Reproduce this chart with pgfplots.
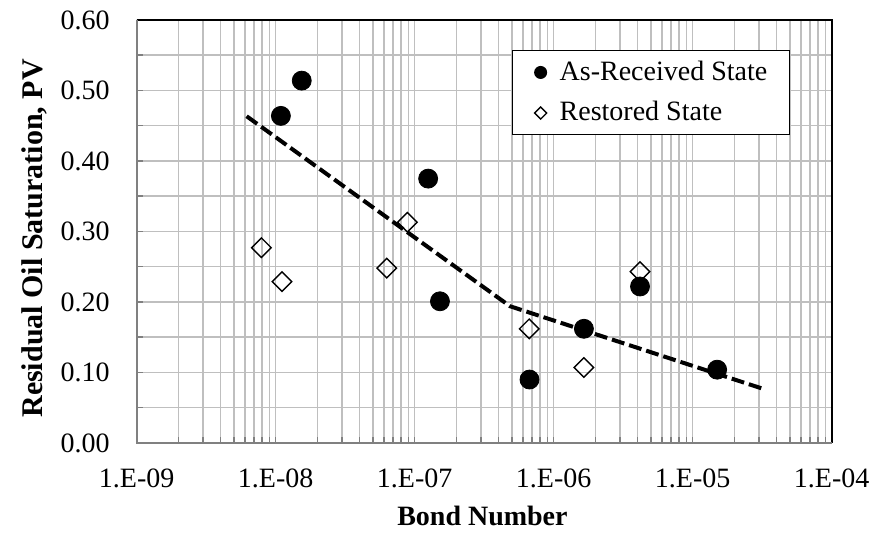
\documentclass[border=0pt]{standalone}
\usepackage{fontspec}
\setmainfont{Liberation Serif}
\usepackage{pgfplots}
\pgfplotsset{compat=1.18}
\begin{document}
\fontsize{14pt}{16.8pt}\selectfont
\begin{tikzpicture}
\begin{axis}[
  at={(68.35pt,45pt)}, anchor=south west,
  scale only axis, width=347.5pt, height=211.5pt,
  xmode=log, xmin=1e-9, xmax=1e-4, ymin=0, ymax=0.6,
  xtick={1e-9,1e-8,1e-7,1e-6,1e-5,1e-4},
  xticklabels={1.E-09,1.E-08,1.E-07,1.E-06,1.E-05,1.E-04},
  minor xtick={2e-9,3e-9,4e-9,5e-9,6e-9,7e-9,8e-9,9e-9,
               2e-8,3e-8,4e-8,5e-8,6e-8,7e-8,8e-8,9e-8,
               2e-7,3e-7,4e-7,5e-7,6e-7,7e-7,8e-7,9e-7,
               2e-6,3e-6,4e-6,5e-6,6e-6,7e-6,8e-6,9e-6,
               2e-5,3e-5,4e-5,5e-5,6e-5,7e-5,8e-5,9e-5},
  ytick={0,0.1,0.2,0.3,0.4,0.5,0.6},
  minor ytick={0.05,0.15,0.25,0.35,0.45,0.55},
  /pgf/number format/fixed,
  /pgf/number format/fixed zerofill,
  /pgf/number format/precision=2,
  /pgf/number format/assume math mode=true,
  grid=both,
  major grid style={draw=gray!50, line width=0.75pt},
  minor grid style={draw=gray!50, line width=0.75pt},
  axis line style={draw=none},
  tick align=inside, xtick pos=bottom, ytick pos=left,
  major tick length=3pt, minor tick length=3pt,
  tick style={draw=gray, line width=0.75pt},
  xticklabel style={yshift=-8pt},
  yticklabel style={xshift=-8.7pt},
  xlabel={\bfseries Bond Number},
  ylabel={\fontsize{15pt}{18pt}\selectfont\bfseries Residual Oil Saturation, PV},
  xlabel style={at={(axis description cs:0.4975,-0.1939)}, anchor=base},
  ylabel style={at={(axis description cs:-0.1348,0.4835)}, anchor=base},
  legend style={at={(0.54,0.929)}, anchor=north west, draw=black, line width=0.6pt,
    fill=white, inner xsep=11pt, inner ysep=3pt, row sep=4.5pt, column sep=6.5pt,
    font=\fontsize{14pt}{16.8pt}\selectfont,
    nodes={inner xsep=0pt, inner ysep=2pt}},
  legend cell align=left,
  legend image code/.code={\draw[#1, every mark/.append style={scale=0.62}] plot coordinates {(0pt,0pt)};},
  reverse legend,
  after end axis/.code={
    \draw[black, line width=0.9pt] (rel axis cs:0,1) -- (rel axis cs:1,1) -- (rel axis cs:1,0);
    \draw[gray, line width=0.9pt] (rel axis cs:0,1) -- (rel axis cs:0,0) -- (rel axis cs:1,0);
  },
]
\addplot[forget plot, black, line width=2pt, dash pattern=on 6.5pt off 2.5pt] coordinates {
  (6.18e-9,0.4635) (4.85e-7,0.194) (3.27e-5,0.0763)
};
\addplot[only marks, mark=square, mark size=3.45pt, mark options={rotate=45, fill=white, draw=black, line width=0.7pt}] coordinates {
  (7.9e-9,0.277) (1.11e-8,0.229) (6.3e-8,0.248) (8.86e-8,0.313)
  (6.67e-7,0.162) (1.65e-6,0.107) (4.18e-6,0.243)
};
\addlegendentry{Restored State}
\addplot[only marks, mark=*, mark size=4.75pt, mark options={fill=black, draw=black}] coordinates {
  (1.09e-8,0.464) (1.54e-8,0.514) (1.25e-7,0.375) (1.52e-7,0.201)
  (6.7e-7,0.090) (1.65e-6,0.162) (4.18e-6,0.222) (1.5e-5,0.104)
};
\addlegendentry{As-Received State}
\end{axis}
\pgfresetboundingbox
\path (0,0) rectangle (437.5pt,266.5pt);
\end{tikzpicture}
\end{document}
